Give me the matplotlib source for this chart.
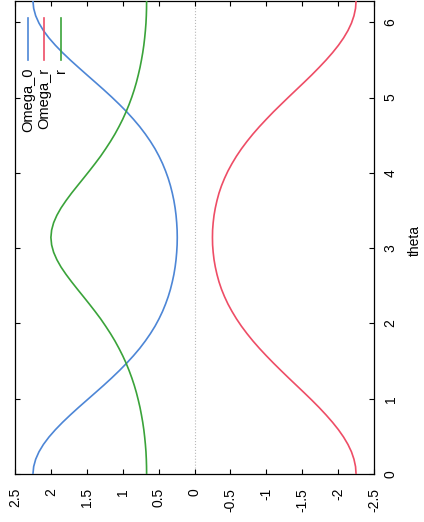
import matplotlib
matplotlib.use("Agg")
import matplotlib.pyplot as plt

# Data read from the (rotated) gnuplot chart
theta = [0.0, 0.098, 0.196, 0.295, 0.393, 0.491, 0.589, 0.687, 0.785, 0.884, 0.982,
         1.080, 1.178, 1.276, 1.374, 1.473, 1.571, 1.669, 1.767, 1.865, 1.963, 2.062,
         2.160, 2.258, 2.356, 2.454, 2.553, 2.651, 2.749, 2.847, 2.945, 3.043, 3.142,
         3.240, 3.338, 3.436, 3.534, 3.632, 3.731, 3.829, 3.927, 4.025, 4.123, 4.221,
         4.320, 4.418, 4.516, 4.614, 4.712, 4.811, 4.909, 5.007, 5.105, 5.203, 5.301,
         5.400, 5.498, 5.596, 5.694, 5.792, 5.890, 5.989, 6.087, 6.185, 6.283]
omega_0 = [2.250, 2.240, 2.212, 2.166, 2.104, 2.027, 1.937, 1.837, 1.729, 1.615, 1.498,
           1.381, 1.265, 1.153, 1.046, 0.944, 0.850, 0.763, 0.685, 0.614, 0.550, 0.494,
           0.445, 0.403, 0.366, 0.335, 0.309, 0.287, 0.270, 0.257, 0.248, 0.242, 0.240,
           0.242, 0.248, 0.257, 0.270, 0.287, 0.309, 0.335, 0.366, 0.403, 0.445, 0.494,
           0.550, 0.614, 0.685, 0.763, 0.850, 0.944, 1.046, 1.153, 1.265, 1.381, 1.498,
           1.615, 1.729, 1.837, 1.937, 2.027, 2.104, 2.166, 2.212, 2.240, 2.250]
omega_r = [-2.250, -2.243, -2.221, -2.186, -2.137, -2.076, -2.004, -1.922, -1.832, -1.735,
           -1.633, -1.527, -1.419, -1.311, -1.205, -1.100, -1.000, -0.904, -0.814, -0.731,
           -0.654, -0.584, -0.522, -0.466, -0.418, -0.376, -0.341, -0.313, -0.290, -0.272,
           -0.260, -0.252, -0.250, -0.252, -0.260, -0.272, -0.290, -0.313, -0.341, -0.376,
           -0.418, -0.466, -0.522, -0.584, -0.654, -0.731, -0.814, -0.904, -1.000, -1.100,
           -1.205, -1.311, -1.419, -1.527, -1.633, -1.735, -1.832, -1.922, -2.004, -2.076,
           -2.137, -2.186, -2.221, -2.243, -2.250]
r_vals = [0.667, 0.668, 0.671, 0.676, 0.684, 0.694, 0.706, 0.721, 0.739, 0.759, 0.783,
          0.809, 0.839, 0.873, 0.911, 0.953, 1.000, 1.052, 1.108, 1.170, 1.237, 1.308,
          1.385, 1.465, 1.547, 1.630, 1.712, 1.789, 1.859, 1.917, 1.962, 1.990, 2.000,
          1.990, 1.962, 1.917, 1.859, 1.789, 1.712, 1.630, 1.547, 1.465, 1.385, 1.308,
          1.237, 1.170, 1.108, 1.052, 1.000, 0.953, 0.911, 0.873, 0.839, 0.809, 0.783,
          0.759, 0.739, 0.721, 0.706, 0.694, 0.684, 0.676, 0.671, 0.668, 0.667]

series_names = ["Omega_0", "Omega_r", "r"]
value_ticks = [2.5, 2, 1.5, 1, 0.5, 0, -0.5, -1, -1.5, -2, -2.5]
value_labels = ["2.5", "2", "1.5", "1", "0.5", "0", "-0.5", "-1", "-1.5", "-2", "-2.5"]
theta_ticks = [0, 1, 2, 3, 4, 5, 6]
theta_labels = ["0", "1", "2", "3", "4", "5", "6"]

colors = ["#4d86d6", "#ee4d66", "#3aa33a"]

plt.rcParams['font.family'] = ['Liberation Sans', 'DejaVu Sans']

W, H = 424, 522
fig = plt.figure(figsize=(W / 100, H / 100), dpi=100)
fig.patch.set_facecolor("white")

ax = fig.add_axes([15 / W, 48 / H, 359 / W, 473 / H])
ax.set_xlim(2.5, -2.5)
ax.set_ylim(0, 6.283)

ax.axvline(0, color="#b8b8b8", ls=":", lw=0.8, zorder=1)

for vals, c in zip([omega_0, omega_r, r_vals], colors):
    ax.plot(vals, theta, color=c, lw=1.2, zorder=3)

ax.set_xticks(value_ticks)
ax.set_xticklabels(value_labels, rotation=90, va="top", ha="center")
ax.set_yticks(theta_ticks)
ax.set_yticklabels(theta_labels, rotation=90, va="center", ha="left")
ax.yaxis.tick_right()
ax.tick_params(axis="both", which="both", direction="in", length=3.6, width=0.8,
               top=True, bottom=True, left=True, right=True, labelsize=10)
ax.tick_params(axis="x", pad=10)
ax.tick_params(axis="y", pad=7)
for s in ax.spines.values():
    s.set_linewidth(0.9)
    s.set_color("black")

fig.text(415 / W, 1 - 240 / H, "theta", rotation=90, ha="center", va="center", fontsize=10)

# Legend (rotated)
leg_x = [28, 44, 61]
for name, c, xp in zip(series_names, colors, leg_x):
    fig.add_artist(plt.Line2D([xp / W, xp / W], [1 - 18 / H, 1 - 60 / H],
                              transform=fig.transFigure, color=c, lw=1.2))
    fig.text(xp / W, 1 - 68 / H, name, rotation=90, ha="center", va="top", fontsize=10.5)

fig.savefig("out.png", dpi=100)
